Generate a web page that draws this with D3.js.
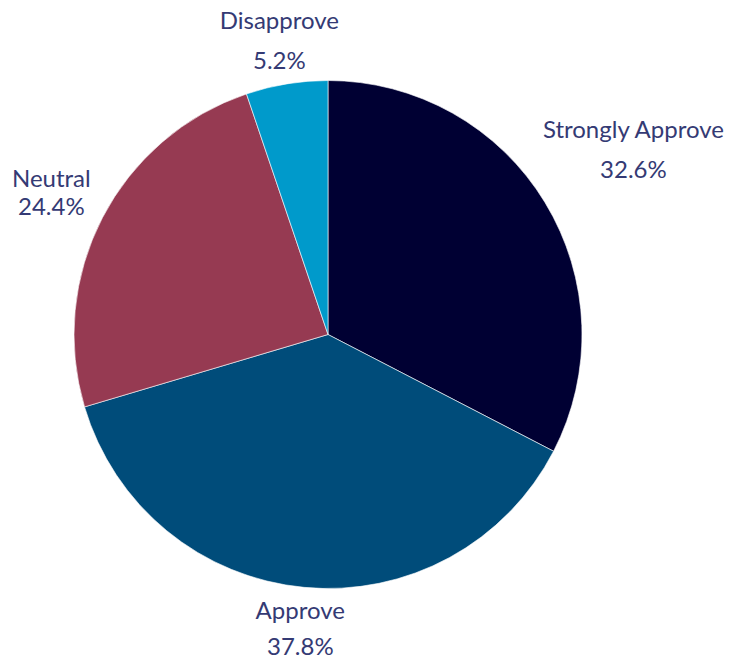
<!DOCTYPE html>
<html>
<head>
<meta charset="utf-8">
<script src="https://cdn.jsdelivr.net/npm/d3@7"></script>
<style>
  body { margin: 0; background: #fff; }
  text { font-family: Lato, "Noto Sans", sans-serif; fill: #343a74; }
</style>
</head>
<body>
<div id="chart"></div>
<script>
var categories = ["Strongly Approve", "Approve", "Neutral", "Disapprove"];
var values = [32.6, 37.8, 24.4, 5.2];
var valueLabels = ["32.6%", "37.8%", "24.4%", "5.2%"];
var colors = ["#000033", "#004c7a", "#963a52", "#009acb"];

var width = 737,
    height = 662,
    cx = 328,
    cy = 334.5,
    radius = 254,
    gap = 11.5,
    capH = 19;

// space between the two label lines (Neutral is wrapped, so tighter)
var lineGaps = { "Strongly Approve": 40, "Approve": 36, "Neutral": 28, "Disapprove": 40 };

var svg = d3.select('#chart').append('svg')
    .attr('width', width)
    .attr('height', height);

var g = svg.append('g')
    .attr('transform', 'translate(' + cx + ',' + cy + ')');

var pie = d3.pie().sort(null).value(function (d) { return d; });
var arcs = pie(values);

var arc = d3.arc().innerRadius(0).outerRadius(radius);

g.selectAll('path')
    .data(arcs)
    .enter().append('path')
    .attr('d', arc)
    .attr('fill', function (d, i) { return colors[i]; })
    .attr('stroke', '#fff')
    .attr('stroke-width', 0.6);

var labels = g.selectAll('g.label')
    .data(arcs)
    .enter().append('g')
    .attr('class', 'label');

labels.each(function (d, i) {
    var lab = d3.select(this);
    var lineGap = lineGaps[categories[i]];
    var t = lab.append('text')
        .attr('text-anchor', 'middle')
        .style('font-size', '24px');
    t.append('tspan').attr('x', 0).attr('y', 0).text(categories[i]);
    t.append('tspan').attr('x', 0).attr('y', lineGap).text(valueLabels[i]);
    var w = t.node().getBBox().width;
    var h = capH + lineGap;          // cap top of line 1 to baseline of line 2
    var mid = (d.startAngle + d.endAngle) / 2;
    var ux = Math.sin(mid), uy = -Math.cos(mid);
    function nearest(px, py) {
        var nx = Math.max(px - w / 2, Math.min(0, px + w / 2));
        var ny = Math.max(py - h / 2, Math.min(0, py + h / 2));
        return Math.sqrt(nx * nx + ny * ny);
    }
    // push the label box out along the mid angle until it clears the pie
    var dist = radius, px, py;
    while (true) {
        px = ux * dist; py = uy * dist;
        if (nearest(px, py) >= radius + gap) break;
        dist += 0.5;
    }
    lab.attr('transform', 'translate(' + px + ',' + (py - h / 2 + capH) + ')');
});
</script>
</body>
</html>
